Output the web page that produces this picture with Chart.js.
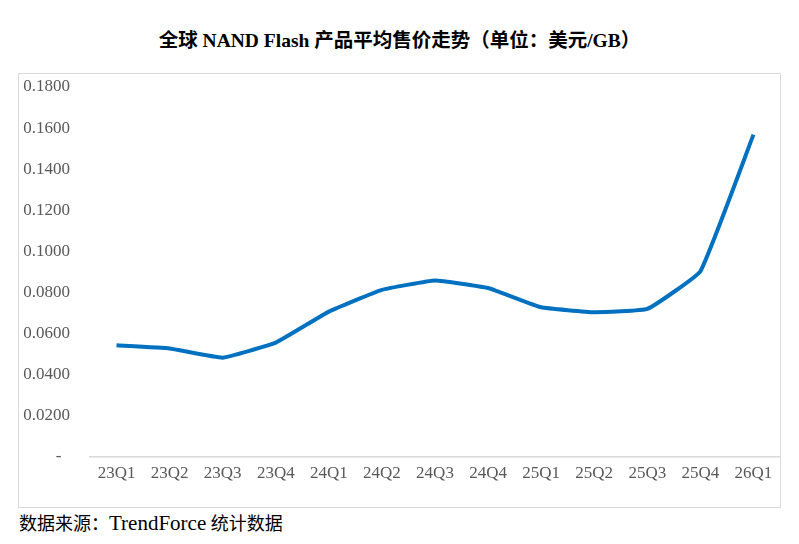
<!DOCTYPE html>
<html>
<head>
<meta charset="utf-8">
<script src="https://cdn.jsdelivr.net/npm/chart.js@4/dist/chart.umd.min.js"></script>
<style>
  body { margin:0; background:#fff; width:799px; height:544px; position:relative; overflow:hidden; }
  #title { position:absolute; left:0; width:799px; top:24px; text-align:center; font:bold 19.5px "Liberation Serif","Noto Sans CJK SC",serif; color:#000; }
  #box { position:absolute; left:18px; top:73px; width:763px; height:435px; border:1px solid #d9d9d9; box-sizing:border-box; }
  #source { position:absolute; left:19px; top:509px; font:18px "Liberation Serif","Noto Sans CJK SC",serif; color:#000; }
  #source span { font-size:21px; }
</style>
</head>
<body>
<div id="title">全球 NAND Flash 产品平均售价走势（单位：美元/GB）</div>
<div id="box"><canvas id="c"></canvas></div>
<div id="source">数据来源：<span>TrendForce</span> 统计数据</div>
<script>
const quarters = ["23Q1","23Q2","23Q3","23Q4","24Q1","24Q2","24Q3","24Q4","25Q1","25Q2","25Q3","25Q4","26Q1"];
const avgPrice = [0.0542,0.0527,0.0482,0.0555,0.0706,0.0812,0.0858,0.0821,0.0727,0.0703,0.0719,0.0903,0.1568];

Chart.defaults.font.family = '"Liberation Serif","Noto Sans CJK SC",serif';
Chart.defaults.color = "#595959";

new Chart(document.getElementById("c").getContext("2d"), {
  type: "line",
  data: {
    labels: quarters,
    datasets: [{ data: avgPrice, borderColor: "#0070c0", borderWidth: 4, pointRadius: 0, tension: 0.1, fill: false }]
  },
  options: {
    responsive: true, maintainAspectRatio: false, animation: false,
    layout: { padding: { top: 13, right: 0, bottom: 16, left: 0 } },
    plugins: { legend: { display: false }, tooltip: { enabled: false } },
    scales: {
      x: {
        offset: true,
        grid: { display: false, drawTicks: false },
        border: { display: true, color: "#d9d9d9", width: 1.5 },
        ticks: { font: { size: 17 }, padding: 7, maxRotation: 0, autoSkip: false }
      },
      y: {
        min: 0, max: 0.18,
        grid: { display: false, drawTicks: false },
        border: { display: false },
        // fixed axis width; drop the tick padding chart.js adds above/below
        afterFit: s => { s.width = 71; s.paddingTop = 0; s.paddingBottom = 0; },
        ticks: {
          stepSize: 0.02, padding: 20, font: { size: 17 },
          callback: v => Math.abs(v) < 1e-9 ? "-  " : v.toFixed(4)
        }
      }
    }
  }
});
</script>
</body>
</html>
